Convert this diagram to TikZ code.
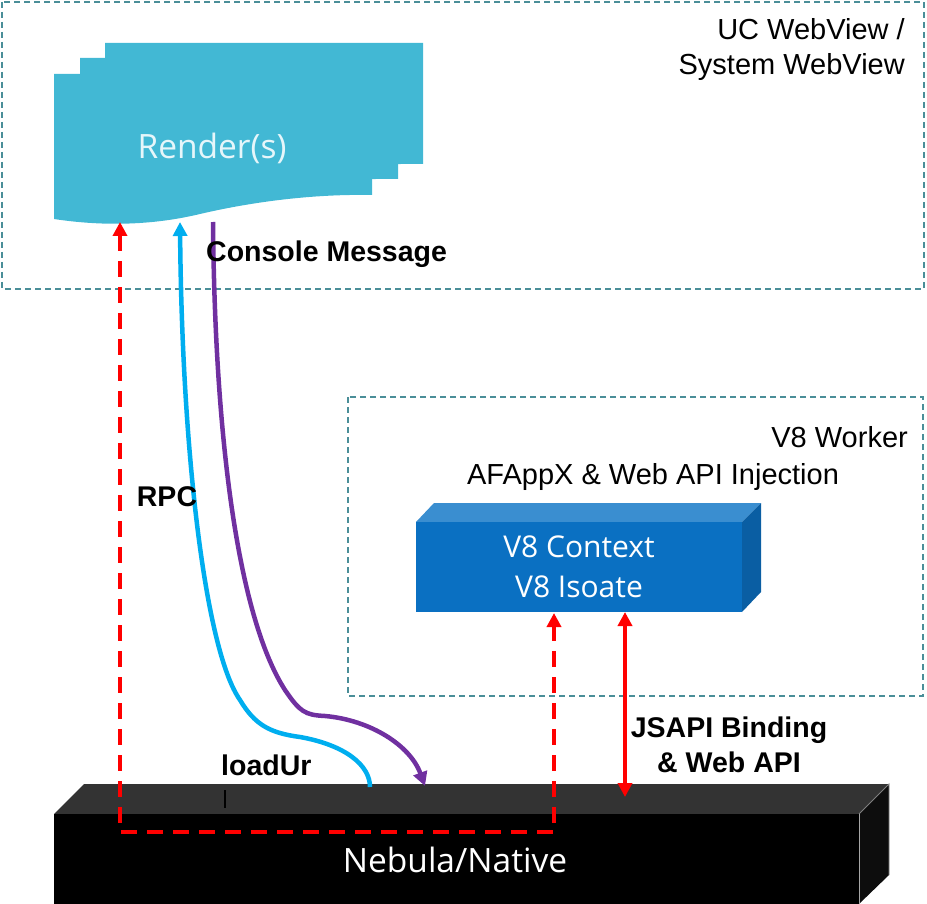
\documentclass[tikz,border=0pt]{standalone}
\usepackage{fontspec}
\setmainfont{Liberation Sans}
\newfontfamily\uifont{Open Sans}
\usetikzlibrary{arrows.meta}
\definecolor{teal1}{HTML}{4A8E98}
\definecolor{render}{HTML}{42B8D4}
\definecolor{v8front}{HTML}{0A70C2}
\definecolor{v8top}{HTML}{3A8ED0}
\definecolor{v8side}{HTML}{0A5EA3}
\definecolor{nebtop}{HTML}{333333}
\definecolor{bluearr}{HTML}{00AEEF}
\definecolor{purparr}{HTML}{7030A0}
\definecolor{redarr}{HTML}{FF0000}
\definecolor{rendertext}{HTML}{E6F6FA}
\tikzset{
  groupbox/.style={draw=teal1, line width=1.5pt, dash pattern=on 6pt off 4pt},
  plain/.style={font=\fontsize{29}{35}\selectfont, inner sep=0pt},
  lbl/.style={font=\bfseries\fontsize{28.5}{35}\selectfont, inner sep=0pt, align=center},
  uitext/.style={font=\uifont\fontsize{33.5}{40}\selectfont, text=white, inner sep=0pt, align=center},
  v8text/.style={font=\uifont\fontsize{30}{40}\selectfont, text=white, inner sep=0pt, align=center},
  tip/.style={-{Triangle[length=14pt,width=14pt]}},
  rpcline/.style={draw=redarr, line width=4pt, dash pattern=on 16pt off 10pt},
}
\begin{document}
\begin{tikzpicture}[x=1pt,y=-1pt]
\useasboundingbox (0,0) rectangle (927,904);
% group boxes
\draw[groupbox] (2,2) rectangle (924,289);
\draw[groupbox] (348,397) rectangle (923,696);
\node[plain, anchor=north east, align=right] (ucweb) at (905,18) {UC WebView /\\System WebView};
\node[plain, anchor=east] (v8worker) at (908,437) {V8 Worker};
\node[plain] (inject) at (653,477) {AFAppX \& Web API Injection};
% render stack
\foreach \dx/\dy in {51/-31, 26/-16, 0/0}{
  \fill[render, shift={(\dx,\dy)}] (54,74) -- (372,74) -- (372,195)
    .. controls (320,194) and (260,200) .. (200,214)
    .. controls (150,226) and (100,226) .. (54,219) -- cycle;
}
\node[uitext, text=rendertext] (render) at (212,148) {Render(s)};
% V8 block
\fill[v8top] (416,522) -- (434,503) -- (761,503) -- (742,522) -- cycle;
\fill[v8side] (742,522) -- (761,503) -- (761,592) -- (742,612) -- cycle;
\fill[v8front] (416,522) rectangle (742,612);
\node[v8text] (v8) at (579,567) {V8 Context\\V8 Isoate};
% Nebula block
\fill[nebtop] (54,814) -- (84,784) -- (889,784) -- (859,814) -- cycle;
\fill[black] (54,814) rectangle (859,904);
\fill[black!95] (859,814) -- (889,784) -- (889,875) -- (859,904) -- cycle;
\draw[gray, line width=0.8pt] (859,814) -- (889,784) -- (889,875);
\draw[gray!70, line width=0.6pt] (859,814) -- (859,904);
\node[uitext] (neb) at (455,860) {Nebula/Native};
% coordinates
\coordinate (rpcTop) at (120,222);
\coordinate (rpcBL) at (120,832);
\coordinate (rpcBR) at (554,832);
\coordinate (rpcV8) at (554,613);
\coordinate (loadStart) at (370,787);
\coordinate (loadEnd) at (180,222);
\coordinate (conStart) at (213,222);
\coordinate (conEnd) at (425,786);
\coordinate (jsTop) at (625,612);
\coordinate (jsBot) at (625,797);
\coordinate (tickA) at (225,790);
\coordinate (tickB) at (225,808);
% RPC dashed
\draw[rpcline, {Triangle[length=14pt,width=14pt]}-{Triangle[length=14pt,width=14pt]}, line join=round] (rpcTop) -- (rpcBL) -- (rpcBR) -- (rpcV8);
% loadUrl
\draw[bluearr, line width=4.5pt, tip] (loadStart) .. controls (370,765) and (345,745) .. (300,737)
  .. controls (270,733) and (255,725) .. (240,700)
  .. controls (205,650) and (182,450) .. (loadEnd);
% console message
\draw[purparr, line width=4.5pt, tip] (conStart) .. controls (215,450) and (240,620) .. (285,690)
  .. controls (300,712) and (305,715) .. (325,716)
  .. controls (370,720) and (410,745) .. (conEnd);
% JSAPI
\draw[redarr, line width=4pt, {Triangle[length=14pt,width=14pt]}-{Triangle[length=14pt,width=14pt]}] (jsTop) -- (jsBot);
\draw[black, line width=2pt] (tickA) -- (tickB);
% labels
\node[lbl, anchor=west] (conmsg) at (206,254) {Console Message};
\node[lbl] (rpc) at (167,497) {RPC};
\node[lbl, anchor=west] (loadur) at (221,765) {loadUr};
\node[lbl] (jsapi) at (729,745) {JSAPI Binding\\\& Web API};
\end{tikzpicture}
\end{document}
